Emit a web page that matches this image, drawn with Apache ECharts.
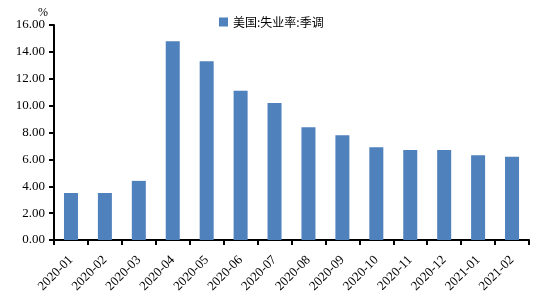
<!DOCTYPE html>
<html><head><meta charset="utf-8">
<script src="https://cdn.jsdelivr.net/npm/echarts@6/dist/echarts.min.js"></script>
<style>html,body{margin:0;padding:0;background:#fff}#c{width:547px;height:301px}</style>
</head><body><div id="c"></div>
<script>
var categories = ['2020-01','2020-02','2020-03','2020-04','2020-05','2020-06','2020-07','2020-08','2020-09','2020-10','2020-11','2020-12','2021-01','2021-02'];
var values = [3.5, 3.5, 4.4, 14.8, 13.3, 11.1, 10.2, 8.4, 7.8, 6.9, 6.7, 6.7, 6.3, 6.2];
var seriesName = '美国:失业率:季调';
var yUnit = '%';

var chart = echarts.init(document.getElementById('c'), null, {renderer:'canvas'});
chart.setOption({
  animation: false,
  backgroundColor: '#fff',
  grid: {left: 54, right: 18, top: 25, bottom: 61, containLabel: false},
  legend: {
    data: [seriesName], left: 214, top: 11, itemWidth: 9, itemHeight: 9, itemGap: 6,
    icon: 'rect',
    textStyle: {fontFamily: '"Noto Sans CJK SC"', fontSize: 12, color: '#000'}
  },
  xAxis: {
    type: 'category', data: categories, boundaryGap: true,
    axisLine: {lineStyle: {color: '#000', width: 2}},
    axisTick: {show: true, length: 5, lineStyle: {color: '#000', width: 2}, alignWithLabel: false},
    axisLabel: {rotate: 45, interval: 0, fontFamily: '"Liberation Serif"', fontSize: 13, color: '#000', margin: 18}
  },
  yAxis: {
    type: 'value', min: 0, max: 16, interval: 2,
    name: yUnit, nameGap: 6,
    nameTextStyle: {fontFamily: '"Liberation Serif"', fontSize: 12, color: '#000', align: 'right', padding: [0, 6, 0, 0]},
    axisLine: {show: true, lineStyle: {color: '#000', width: 2}},
    axisTick: {show: true, length: 5, lineStyle: {color: '#000', width: 2}},
    splitLine: {show: false},
    axisLabel: {formatter: function(v){return v.toFixed(2);}, fontFamily: '"Liberation Serif"', fontSize: 13, color: '#000', margin: 9}
  },
  series: [{
    name: seriesName, type: 'bar', data: values, barWidth: 14,
    itemStyle: {color: '#4F81BD'}
  }]
});
</script></body></html>
